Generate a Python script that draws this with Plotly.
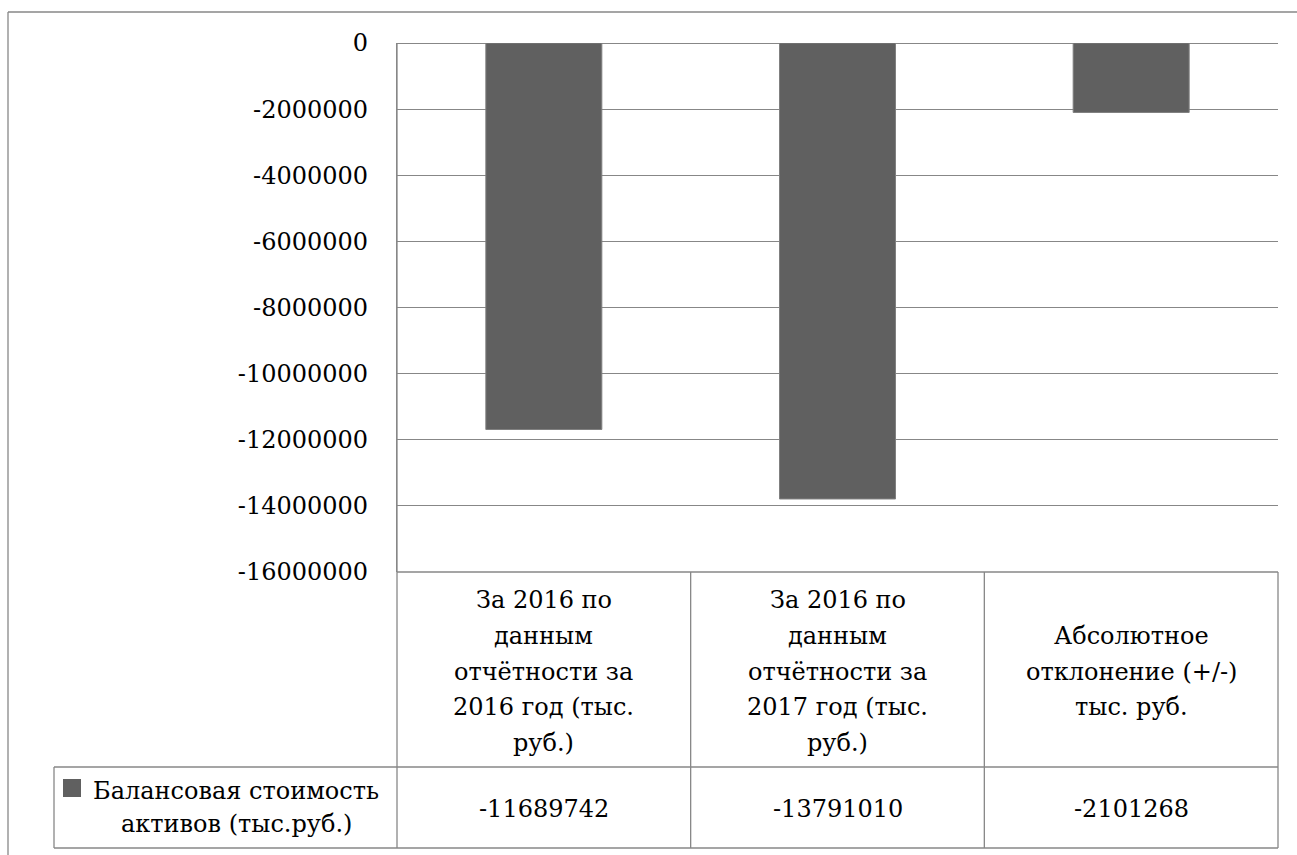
import plotly.graph_objects as go

# ---- data ----
categories = [
    "За 2016 по<br>данным<br>отчётности за<br>2016 год (тыс.<br>руб.)",
    "За 2016 по<br>данным<br>отчётности за<br>2017 год (тыс.<br>руб.)",
    "Абсолютное<br>отклонение (+/-)<br>тыс. руб.",
]
values = [-11689742, -13791010, -2101268]
series_name = "Балансовая стоимость<br>активов (тыс.руб.)"
tick_vals = [0, -2000000, -4000000, -6000000, -8000000, -10000000,
             -12000000, -14000000, -16000000]
tick_text = ["0", "-2000000", "-4000000", "-6000000", "-8000000", "-10000000",
             "-12000000", "-14000000", "-16000000"]

# ---- layout geometry (pixels) ----
W, H = 1297, 855
PL, PR, PT, PB = 397, 1278, 43, 572   # plot area
FONT = "DejaVu Serif"
FS = 24
GRID = "#878787"
BAR = "#606060"
LINE_STEP = 35.8

def px(x):
    return (x - PL) / (PR - PL)

def py(y):
    return (PB - y) / (PB - PT)

fig = go.Figure()
fig.add_trace(go.Bar(
    x=categories, y=values, name=series_name,
    width=0.395,
    marker=dict(color=BAR, line=dict(color="#808080", width=1)),
    showlegend=False,
))

shapes = []
def line(x0, y0, x1, y1, w=1.3):
    shapes.append(dict(type="line", xref="paper", yref="paper",
                       x0=px(x0), y0=py(y0), x1=px(x1), y1=py(y1),
                       line=dict(color=GRID, width=w), layer="above"))

# outer chart border
line(8, 12, 1300, 12)
line(8, 12, 8, 860)
# table lines
TR1, TR2 = 767, 848
line(PL, PT, PL, TR2)           # left axis extension
line(PL, PB, PR, PB)            # table top
line(54, TR1, PR, TR1)
line(54, TR2, PR, TR2)
line(54, TR1, 54, TR2)
ncat = len(categories)
for i in range(1, ncat + 1):
    xx = PL + (PR - PL) * i / ncat
    line(xx, PB, xx, TR2)

# legend key square
shapes.append(dict(type="rect", xref="paper", yref="paper",
                   x0=px(63), x1=px(81), y0=py(797), y1=py(779),
                   fillcolor=BAR, line=dict(width=0)))

annotations = []
def txt(x, xref, ycenter, text):
    annotations.append(dict(x=x, xref=xref, y=py(ycenter), yref="paper",
                            text=text, showarrow=False, align="center",
                            font=dict(family=FONT, size=FS, color="black"),
                            xanchor="center", yanchor="middle"))

head_c = (PB + TR1) / 2 + 2
row_c = (TR1 + TR2) / 2
for c, v in zip(categories, values):
    parts = c.split("<br>")
    n = len(parts)
    for j, p in enumerate(parts):
        txt(c, "x", head_c + (j - (n - 1) / 2) * LINE_STEP, p)
    txt(c, "x", row_c + 1, str(v))

leg_parts = series_name.split("<br>")
for j, p in enumerate(leg_parts):
    txt(px(236), "paper", row_c + (j - (len(leg_parts) - 1) / 2) * 33, p)

fig.update_layout(
    width=W, height=H,
    margin=dict(l=PL, r=W - PR, t=PT, b=H - PB, pad=0),
    paper_bgcolor="white", plot_bgcolor="white",
    font=dict(family=FONT, size=FS, color="black"),
    bargap=0.6,
    shapes=shapes, annotations=annotations,
    xaxis=dict(showticklabels=False, showgrid=False, zeroline=False,
               showline=False, ticks=""),
    yaxis=dict(range=[-16000000, 0], tickvals=tick_vals, ticktext=tick_text,
               showgrid=True, gridcolor=GRID, gridwidth=1.3,
               zeroline=True, zerolinecolor=GRID, zerolinewidth=1.3,
               showline=True, linecolor=GRID, linewidth=1.3,
               ticks="", ticklabelstandoff=23,
               tickfont=dict(family=FONT, size=FS, color="black")),
)

fig.write_html("out.html")
